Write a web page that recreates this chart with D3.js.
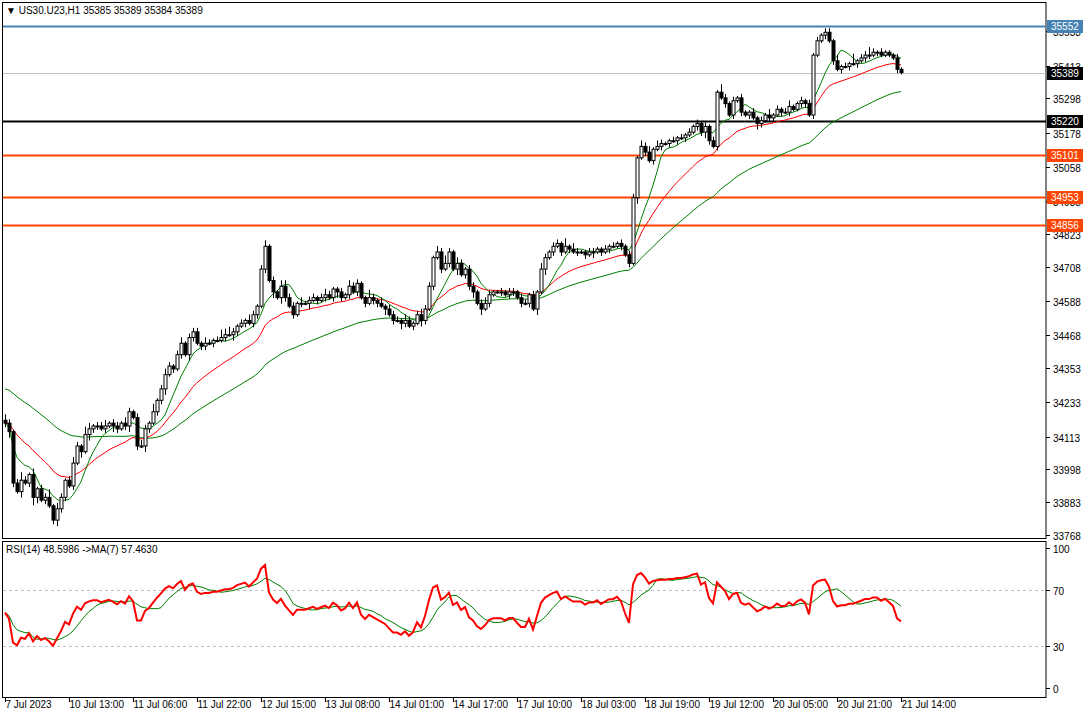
<!DOCTYPE html><html><head><meta charset="utf-8">
<script src="https://cdn.jsdelivr.net/npm/d3@7"></script>
<style>body{margin:0;background:#fff}svg{font-family:"Liberation Sans",Arial,sans-serif;font-size:10px}</style></head><body>
<svg id="c" width="1088" height="716"></svg>
<script>
const closes=[34160,34130,33950,33920,33960,33950,33980,33900,33930,33890,33900,33870,33820,33860,33900,33960,
33940,34020,34080,34060,34120,34140,34150,34150,34140,34150,34160,34150,34140,34160,34150,34200,
34180,34080,34080,34140,34160,34200,34240,34280,34330,34360,34350,34400,34440,34400,34460,34480,
34440,34430,34440,34440,34450,34450,34460,34470,34470,34480,34500,34510,34520,34510,34540,34570,
34700,34780,34660,34620,34600,34640,34600,34570,34540,34580,34580,34580,34590,34600,34590,34600,
34610,34600,34630,34620,34600,34610,34640,34620,34650,34600,34580,34600,34590,34580,34570,34560,
34540,34520,34520,34510,34520,34500,34510,34540,34520,34560,34640,34740,34760,34700,34720,34760,
34700,34720,34680,34700,34640,34620,34580,34560,34580,34610,34620,34620,34620,34610,34620,34620,
34600,34580,34580,34610,34560,34620,34700,34740,34760,34780,34790,34760,34780,34770,34760,34760,
34760,34750,34760,34760,34770,34760,34770,34780,34780,34790,34780,34750,34720,34950,35090,35130,
35110,35080,35120,35130,35140,35140,35150,35150,35160,35160,35170,35180,35200,35210,35180,35200,
35150,35130,35320,35300,35280,35240,35290,35300,35250,35240,35250,35230,35210,35220,35240,35230,
35240,35260,35250,35250,35270,35260,35280,35290,35280,35240,35450,35500,35520,35530,35500,35430,
35400,35410,35410,35420,35420,35430,35440,35450,35450,35460,35460,35450,35460,35450,35440,35400,35389];
const wickUp="3212421312241321232143122312213212321412321231222132124342121321231213322131221232112132211421312221321232213242132122123211212212212132122141321122112121212213231321121212121212142121211212131212311212121221312151224212111211122121";
const wickDn="2321312431212322121313221213212312132122312121321221211213212122121313212121312121232121212122131213212132121212131223131211212212121313121212121213121211212131212121212121122321212121212132122121211221211212121212122121111212111";
const priceTicks=[35533,35413,35298,35178,35058,34938,34823,34708,34588,34468,34353,34233,34113,33998,33883,33768];
const levels=[{v:35552,c:"#4682b4",w:2,t:"#fff"},{v:35389,c:"#c0c0c0",w:1,t:"#fff",bg:"#000"},{v:35220,c:"#000",w:2,t:"#fff"},{v:35101,c:"#ff4500",w:2,t:"#fff"},{v:34953,c:"#ff4500",w:2,t:"#fff"},{v:34856,c:"#ff4500",w:2,t:"#fff"}];
const timeLabels=["7 Jul 2023","10 Jul 13:00","11 Jul 06:00","11 Jul 22:00","12 Jul 15:00","13 Jul 08:00","14 Jul 01:00","14 Jul 17:00","17 Jul 10:00","18 Jul 03:00","18 Jul 19:00","19 Jul 12:00","20 Jul 05:00","20 Jul 21:00","21 Jul 14:00"];
const rsiTicks=[100,70,30,0];

const svg=d3.select("#c");
const n=closes.length;
const x=d3.scaleLinear().domain([0,n-1]).range([5,901]);
const y=d3.scaleLinear().domain([33768,35552]).range([535,26]);
const ry=d3.scaleLinear().domain([0,100]).range([688,548]);
const R=1046;
svg.append("rect").attr("x",2.5).attr("y",2.5).attr("width",R-2.5).attr("height",536).attr("fill","none").attr("stroke","#000");
svg.append("rect").attr("x",2.5).attr("y",541.5).attr("width",R-2.5).attr("height",156).attr("fill","none").attr("stroke","#000");
levels.forEach(l=>svg.append("line").attr("x1",3).attr("x2",R).attr("y1",Math.round(y(l.v))+0.5).attr("y2",Math.round(y(l.v))+0.5).attr("stroke",l.c).attr("stroke-width",l.w));
priceTicks.forEach(t=>{const yy=Math.round(y(t))+0.5;svg.append("line").attr("x1",R).attr("x2",R+4).attr("y1",yy).attr("y2",yy).attr("stroke","#000");
svg.append("text").attr("x",1053).attr("y",yy+4).text(t);});
levels.forEach(l=>{const yy=Math.round(y(l.v));svg.append("rect").attr("x",1047).attr("y",yy-6).attr("width",36).attr("height",13).attr("fill",l.bg||l.c);
svg.append("text").attr("x",1051).attr("y",yy+4).attr("fill",l.t).text(l.v);});
function sma(a,p){return a.map((_,i)=>{const s=a.slice(Math.max(0,i-p+1),i+1);return d3.mean(s);});}
function ema(a,p){const k=2/(p+1);let e=a[0];return a.map(v=>e=e+(v-e)*k);}
const line=d3.line().x((d,i)=>x(i)).y(d=>y(d));
const maL=ema(closes,50).map((v,i)=>v+ (i<40?(40-i)*3:0));
svg.append("path").attr("d",line(maL)).attr("fill","none").attr("stroke","#008000");
svg.append("path").attr("d",line(ema(closes,21))).attr("fill","none").attr("stroke","#ff0000");
svg.append("path").attr("d",line(sma(closes,8))).attr("fill","none").attr("stroke","#008000");
const g=svg.append("g");
closes.forEach((c,i)=>{const o=i?closes[i-1]:c+10;const hi=Math.max(o,c)+ +wickUp[i]*7,lo=Math.min(o,c)- +wickDn[i]*7;
const xx=Math.round(x(i))+0.5;
g.append("line").attr("x1",xx).attr("x2",xx).attr("y1",y(hi)).attr("y2",y(lo)).attr("stroke","#000");
const t=Math.min(y(o),y(c)),h=Math.max(1,Math.abs(y(o)-y(c)));
g.append("rect").attr("x",xx-1.5).attr("y",t).attr("width",3).attr("height",h).attr("fill",c>=o?"#fff":"#000").attr("stroke","#000").attr("stroke-width",1);});
// RSI (Wilder, seeded)
let ag=14,al=12;const rsi=[];
closes.forEach((c,i)=>{if(i>0){const d=c-closes[i-1];ag=(ag*13+Math.max(d,0))/14;al=(al*13+Math.max(-d,0))/14;}
rsi.push(100-100/(1+ag/al));});
const rline=d3.line().x((d,i)=>x(i)).y(d=>ry(d));
[70,30].forEach(v=>svg.append("line").attr("x1",3).attr("x2",R).attr("y1",Math.round(ry(v))+0.5).attr("y2",Math.round(ry(v))+0.5).attr("stroke","#c0c0c0").attr("stroke-dasharray","3,3"));
svg.append("path").attr("d",rline(sma(rsi,7))).attr("fill","none").attr("stroke","#008000");
svg.append("path").attr("d",rline(rsi)).attr("fill","none").attr("stroke","#ff0000").attr("stroke-width",2);
rsiTicks.forEach(t=>{const yy=Math.round(ry(t))+0.5;svg.append("line").attr("x1",R).attr("x2",R+4).attr("y1",yy).attr("y2",yy).attr("stroke","#000");
svg.append("text").attr("x",1053).attr("y",yy+4).text(t);});
timeLabels.forEach((t,k)=>{const xx=Math.round(x(k*16))+0.5;svg.append("line").attr("x1",xx).attr("x2",xx).attr("y1",698).attr("y2",702).attr("stroke","#000");
svg.append("text").attr("x",xx).attr("y",708).text(t);});
svg.append("text").attr("x",6).attr("y",14).text("▼ US30.U23,H1  35385 35389 35384 35389");
svg.append("text").attr("x",6).attr("y",553).text("RSI(14) 48.5986  ->MA(7) 57.4630");
</script></body></html>
